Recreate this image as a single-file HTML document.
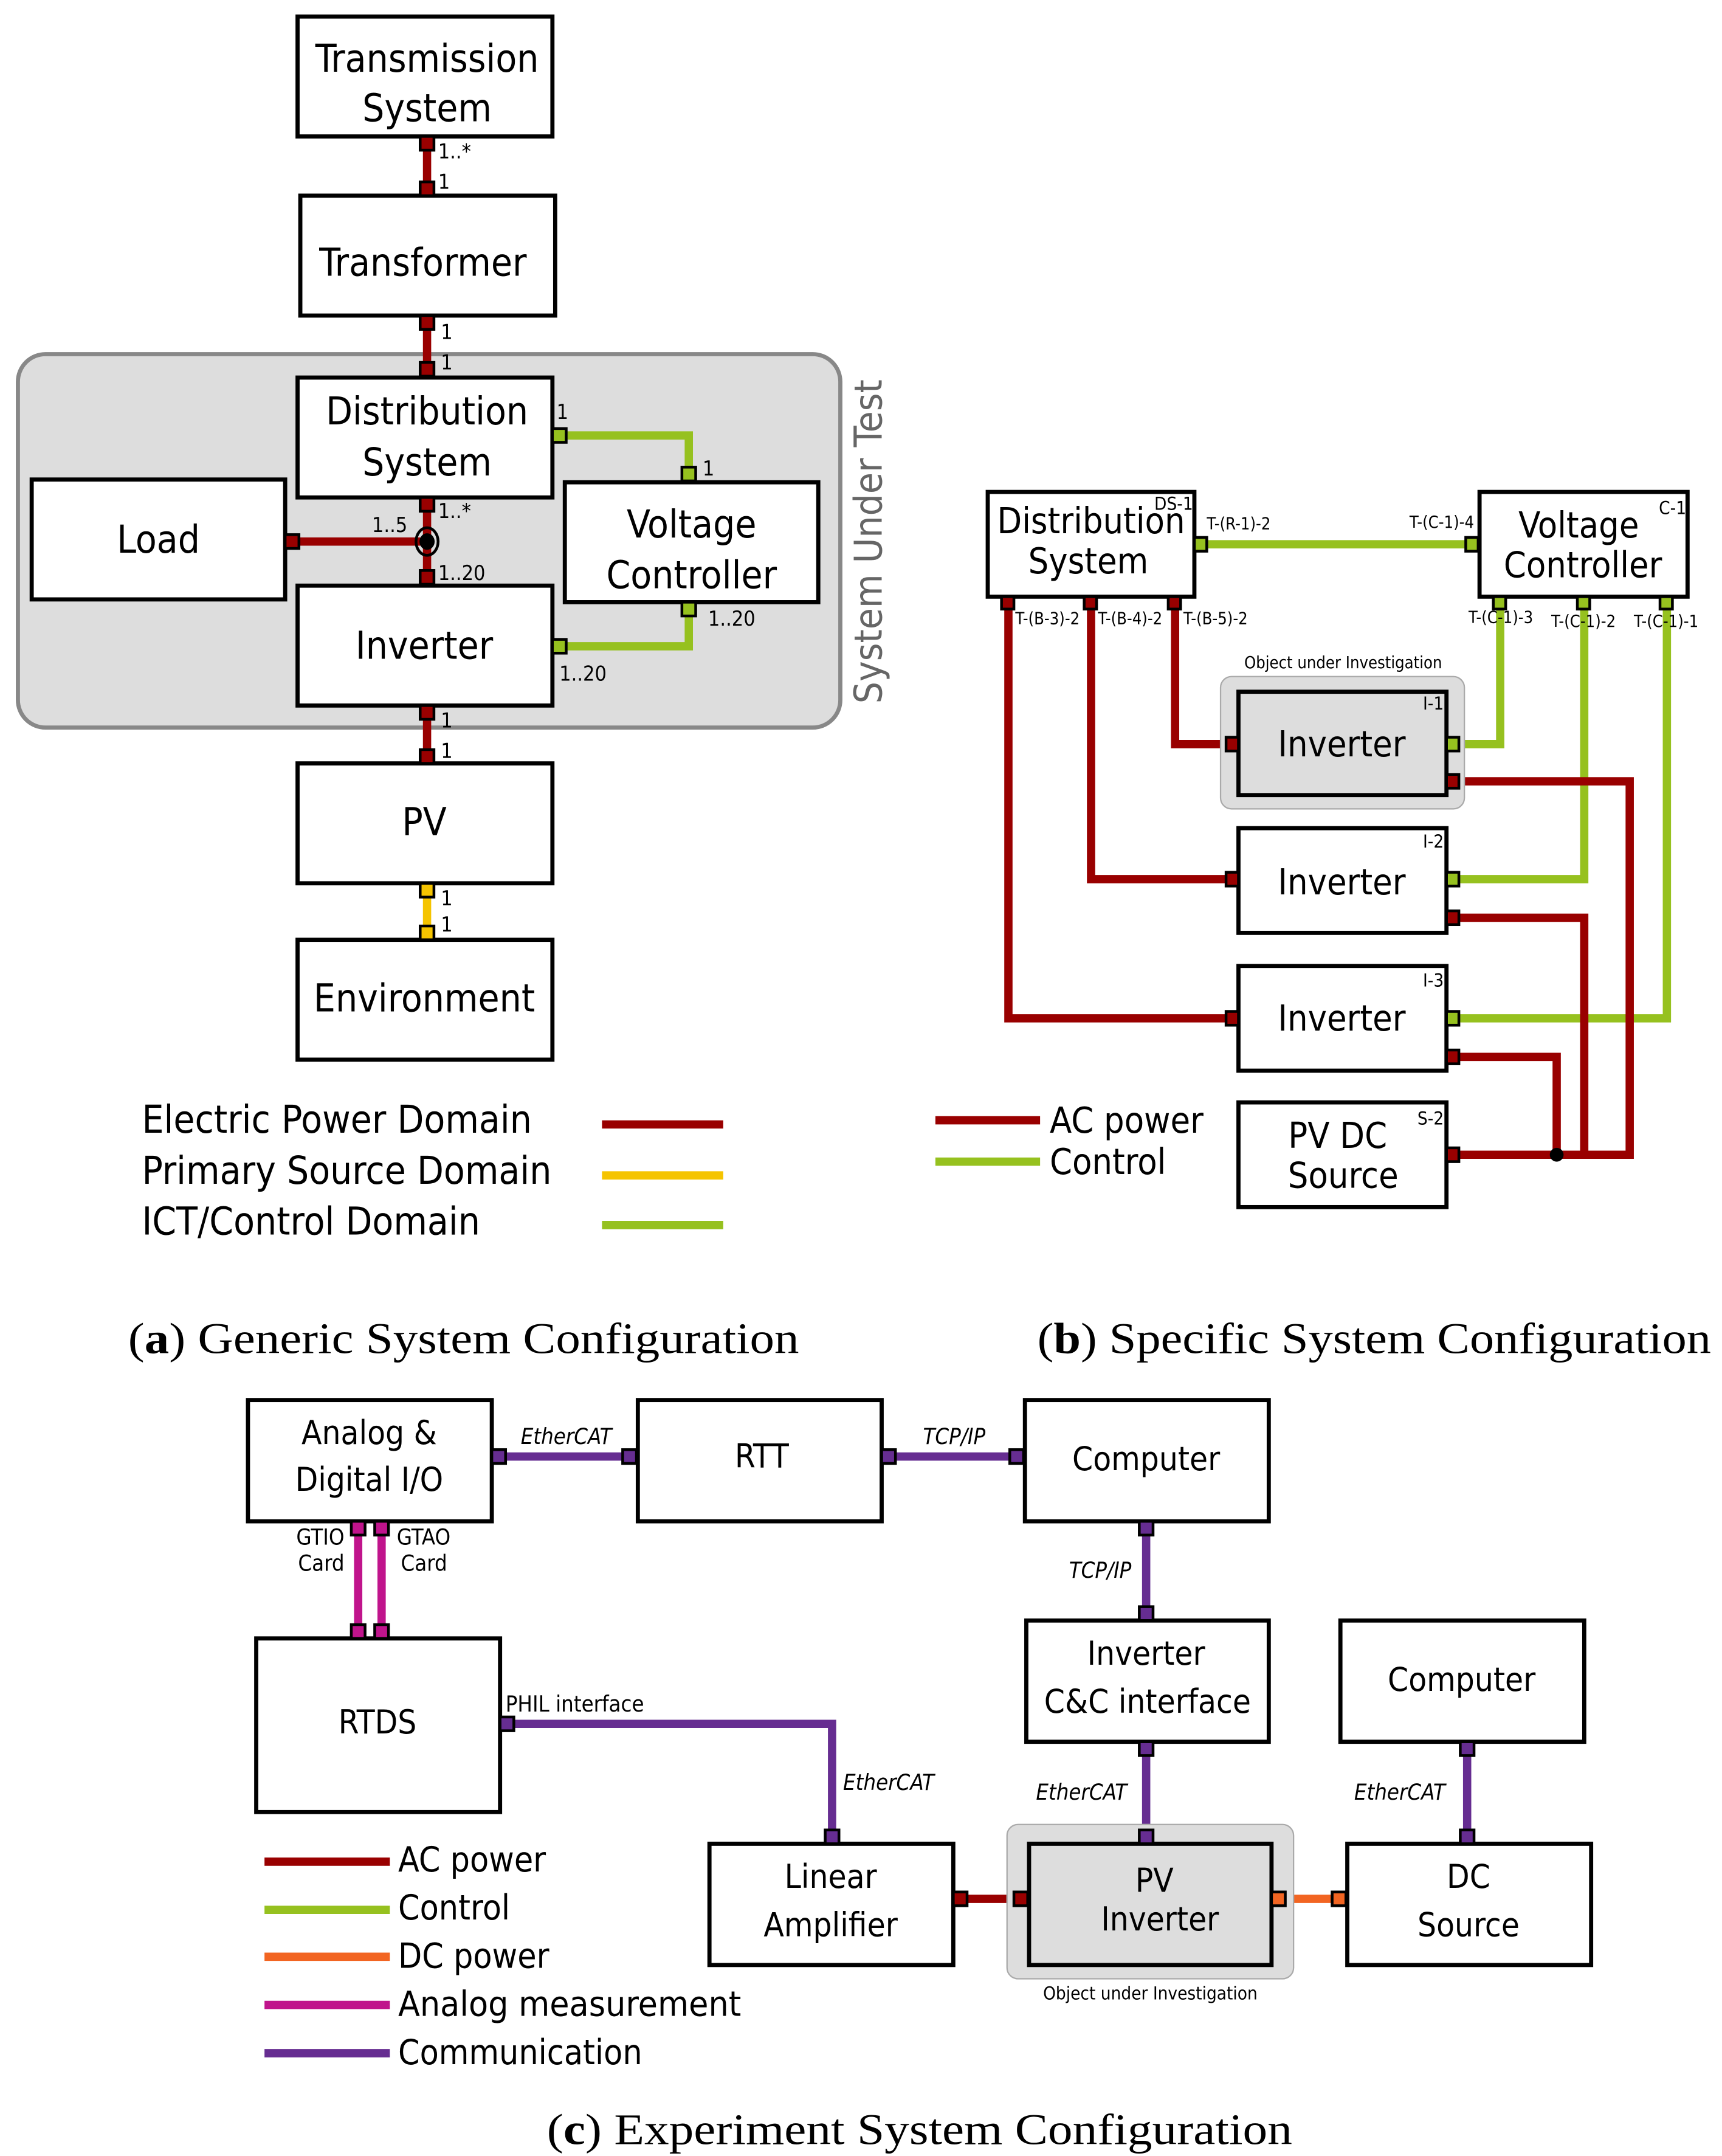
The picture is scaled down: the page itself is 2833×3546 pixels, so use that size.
<!DOCTYPE html>
<html><head><meta charset="utf-8"><style>
html,body{margin:0;padding:0;background:#fff;}
svg{display:block;}
text{font-family:"DejaVu Sans Condensed","DejaVu Sans","Liberation Sans",sans-serif;fill:#000;}
.cap{font-family:"Liberation Serif","DejaVu Serif",serif;font-size:32px;}
.bx{fill:#fff;stroke:#000;stroke-width:3;}
.gb{fill:#ddd;stroke:#000;stroke-width:3;}
.r{stroke:#990000;stroke-width:6;fill:none;}
.g{stroke:#96c11f;stroke-width:6;fill:none;}
.y{stroke:#f5c400;stroke-width:6;fill:none;}
.p{stroke:#662d91;stroke-width:6;fill:none;}
.m{stroke:#c0148c;stroke-width:6;fill:none;}
.o{stroke:#f26522;stroke-width:6;fill:none;}
.pr{fill:#990000;stroke:#000;stroke-width:2;}
.pg{fill:#96c11f;stroke:#000;stroke-width:2;}
.py{fill:#f5c400;stroke:#000;stroke-width:2;}
.pp{fill:#662d91;stroke:#000;stroke-width:2;}
.pm{fill:#c0148c;stroke:#000;stroke-width:2;}
.po{fill:#f26522;stroke:#000;stroke-width:2;}
.big{font-size:28px;}
.mid{font-size:26px;}
.sm{font-size:15px;}
.xs{font-size:12px;}
.c{text-anchor:middle;}
.e{text-anchor:end;}
.i{font-style:italic;}
</style></head><body>
<svg width="2833" height="3546" viewBox="0 0 1250 1564.6" preserveAspectRatio="none" xmlns="http://www.w3.org/2000/svg">
<!-- (a) -->
<rect x="13" y="257" width="597" height="271" rx="20" fill="#ddd" stroke="#888" stroke-width="3"/>
<text x="640" y="393" class="big c" style="fill:#666" transform="rotate(-90 640 393)">System Under Test</text>

<path class="r" d="M310 99V142M310 229V273M310 361V425M213 393H310M310 512V554"/>
<path class="y" d="M310 641V682"/>
<path class="g" d="M406 316H500V343M406 469H500V443"/>

<rect class="bx" x="216" y="12" width="185" height="87"/>
<text x="310" y="52" class="big c">Transmission</text><text x="310" y="88" class="big c">System</text>
<rect class="bx" x="218" y="142" width="185" height="87"/>
<text x="307" y="200" class="big c">Transformer</text>
<rect class="bx" x="216" y="274" width="185" height="87"/>
<text x="310" y="308" class="big c">Distribution</text><text x="310" y="345" class="big c">System</text>
<rect class="bx" x="23" y="348" width="184" height="87"/>
<text x="115" y="401" class="big c">Load</text>
<rect class="bx" x="410" y="350" width="184" height="87"/>
<text x="502" y="390" class="big c">Voltage</text><text x="502" y="427" class="big c">Controller</text>
<rect class="bx" x="216" y="425" width="185" height="87"/>
<text x="308" y="478" class="big c">Inverter</text>
<rect class="bx" x="216" y="554" width="185" height="87"/>
<text x="308" y="606" class="big c">PV</text>
<rect class="bx" x="216" y="682" width="185" height="87"/>
<text x="308" y="734" class="big c">Environment</text>

<g>
<rect class="pr" x="305" y="99" width="10" height="10"/><rect class="pr" x="305" y="132" width="10" height="10"/>
<rect class="pr" x="305" y="229" width="10" height="10"/><rect class="pr" x="305" y="263" width="10" height="10"/>
<rect class="pr" x="305" y="361" width="10" height="10"/><rect class="pr" x="305" y="414" width="10" height="10"/>
<rect class="pr" x="207" y="388" width="10" height="10"/>
<rect class="pr" x="305" y="512" width="10" height="10"/><rect class="pr" x="305" y="544" width="10" height="10"/>
<rect class="py" x="305" y="641" width="10" height="10"/><rect class="py" x="305" y="672" width="10" height="10"/>
<rect class="pg" x="401" y="311" width="10" height="10"/><rect class="pg" x="495" y="339" width="10" height="10"/>
<rect class="pg" x="401" y="464" width="10" height="10"/><rect class="pg" x="495" y="437" width="10" height="10"/>
<ellipse cx="310" cy="393" rx="8" ry="10" fill="none" stroke="#000" stroke-width="2"/>
<ellipse cx="310" cy="393" rx="5.5" ry="6" fill="#000"/>
</g>
<text x="318" y="115" class="sm">1..*</text><text x="318" y="137" class="sm">1</text>
<text x="320" y="246" class="sm">1</text><text x="320" y="268" class="sm">1</text>
<text x="318" y="376" class="sm">1..*</text><text x="270" y="386" class="sm">1..5</text><text x="318" y="421" class="sm">1..20</text>
<text x="404" y="304" class="sm">1</text><text x="510" y="345" class="sm">1</text>
<text x="514" y="454" class="sm">1..20</text><text x="406" y="494" class="sm">1..20</text>
<text x="320" y="528" class="sm">1</text><text x="320" y="550" class="sm">1</text>
<text x="320" y="657" class="sm">1</text><text x="320" y="676" class="sm">1</text>

<text x="103" y="822" class="big">Electric Power Domain</text>
<text x="103" y="859" class="big">Primary Source Domain</text>
<text x="103" y="896" class="big">ICT/Control Domain</text>
<path class="r" d="M437 816H525" stroke-width="4"/>
<path class="y" d="M437 853H525" stroke-width="4"/>
<path class="g" d="M437 889H525" stroke-width="4"/>
<text x="93" y="982" class="cap" textLength="487" lengthAdjust="spacingAndGlyphs">(<tspan font-weight="bold">a</tspan>) Generic System Configuration</text>

<!-- (b) -->
<path class="r" d="M853 438V540H894M792 438V638H894M732 438V739H894"/>
<path class="g" d="M872 395H1069M1055 540H1089V438M1055 638H1150V438M1055 739H1210V438"/>
<path class="r" d="M1055 567H1183V838H1055M1055 666H1150V838M1055 767H1130V838"/>

<rect class="bx" x="717" y="357" width="150" height="76"/>
<text x="866" y="370" class="xs e" style="font-size:13px">DS-1</text>
<text x="792" y="387" class="mid c">Distribution</text><text x="790" y="416" class="mid c">System</text>
<rect class="bx" x="1074" y="357" width="151" height="76"/>
<text x="1224" y="373" class="xs e" style="font-size:13px">C-1</text>
<text x="1146" y="390" class="mid c">Voltage</text><text x="1149" y="419" class="mid c">Controller</text>
<text x="876" y="384" class="xs">T-(R-1)-2</text><text x="1070" y="383" class="xs e">T-(C-1)-4</text>
<text x="737" y="453" class="xs">T-(B-3)-2</text><text x="797" y="453" class="xs">T-(B-4)-2</text><text x="859" y="453" class="xs">T-(B-5)-2</text>
<text x="1066" y="452" class="xs">T-(C-1)-3</text><text x="1126" y="455" class="xs">T-(C-1)-2</text><text x="1186" y="455" class="xs">T-(C-1)-1</text>
<text x="975" y="485" class="xs c">Object under Investigation</text>
<rect x="886" y="491" width="177" height="96" rx="8" fill="#ddd" stroke="#aaa" stroke-width="1"/>
<rect class="gb" x="899" y="502" width="151" height="75"/>
<text x="1048" y="515" class="xs e" style="font-size:13px">I-1</text><text x="974" y="549" class="mid c">Inverter</text>
<rect class="bx" x="899" y="601" width="151" height="76"/>
<text x="1048" y="615" class="xs e" style="font-size:13px">I-2</text><text x="974" y="649" class="mid c">Inverter</text>
<rect class="bx" x="899" y="701" width="151" height="76"/>
<text x="1048" y="716" class="xs e" style="font-size:13px">I-3</text><text x="974" y="748" class="mid c">Inverter</text>
<rect class="bx" x="899" y="800" width="151" height="76"/>
<text x="1048" y="816" class="xs e" style="font-size:13px">S-2</text>
<text x="971" y="833" class="mid c">PV DC</text><text x="975" y="862" class="mid c">Source</text>
<g>
<rect class="pg" x="867" y="390" width="9" height="10"/><rect class="pg" x="1064" y="390" width="9" height="10"/>
<rect class="pr" x="727" y="433" width="9" height="9"/><rect class="pr" x="787" y="433" width="9" height="9"/><rect class="pr" x="848" y="433" width="9" height="9"/>
<rect class="pg" x="1084" y="433" width="9" height="9"/><rect class="pg" x="1145" y="433" width="9" height="9"/><rect class="pg" x="1205" y="433" width="9" height="9"/>
<rect class="pr" x="890" y="535" width="9" height="10"/><rect class="pg" x="1050" y="535" width="9" height="10"/><rect class="pr" x="1050" y="562" width="9" height="10"/>
<rect class="pr" x="890" y="633" width="9" height="10"/><rect class="pg" x="1050" y="633" width="9" height="10"/><rect class="pr" x="1050" y="661" width="9" height="10"/>
<rect class="pr" x="890" y="734" width="9" height="10"/><rect class="pg" x="1050" y="734" width="9" height="10"/><rect class="pr" x="1050" y="762" width="9" height="10"/>
<rect class="pr" x="1050" y="833" width="9" height="10"/>
<circle cx="1130" cy="838" r="5" fill="#000"/>
</g>
<path class="r" d="M679 813H755" stroke-width="7"/>
<path class="g" d="M679 843H755" stroke-width="7"/>
<text x="762" y="822" class="mid">AC power</text><text x="762" y="852" class="mid">Control</text>
<text x="753" y="982" class="cap" textLength="489" lengthAdjust="spacingAndGlyphs">(<tspan font-weight="bold">b</tspan>) Specific System Configuration</text>

<!-- (c) -->
<path class="p" d="M363 1057H457M646 1057H738M832 1110V1170M832 1270V1332M1065 1270V1332M369 1251H604V1332"/>
<path class="m" d="M260 1110V1183M277 1110V1183"/>
<path class="r" d="M697 1378H741"/>
<path class="o" d="M929 1378H972"/>
<rect class="bx" x="180" y="1016" width="177" height="88"/>
<text x="268" y="1048" class="c" style="font-size:24px">Analog &amp;</text><text x="268" y="1082" class="c" style="font-size:24px">Digital I/O</text>
<rect class="bx" x="463" y="1016" width="177" height="88"/>
<text x="553" y="1065" class="c" style="font-size:24px">RTT</text>
<rect class="bx" x="744" y="1016" width="177" height="88"/>
<text x="832" y="1067" class="c" style="font-size:24px">Computer</text>
<rect class="bx" x="745" y="1176" width="176" height="88"/>
<text x="832" y="1208" class="c" style="font-size:24px">Inverter</text><text x="833" y="1243" class="c" style="font-size:24px">C&amp;C interface</text>
<rect class="bx" x="973" y="1176" width="177" height="88"/>
<text x="1061" y="1227" class="c" style="font-size:24px">Computer</text>
<rect class="bx" x="186" y="1189" width="177" height="126"/>
<text x="274" y="1258" class="c" style="font-size:24px">RTDS</text>
<rect class="bx" x="515" y="1338" width="177" height="88"/>
<text x="603" y="1370" class="c" style="font-size:24px">Linear</text><text x="603" y="1405" class="c" style="font-size:24px">Amplifier</text>
<rect x="731" y="1324" width="208" height="112" rx="8" fill="#ddd" stroke="#aaa" stroke-width="1"/>
<rect class="gb" x="747" y="1338" width="176" height="88"/>
<text x="838" y="1373" class="c" style="font-size:24px">PV</text><text x="842" y="1401" class="c" style="font-size:24px">Inverter</text>
<text x="835" y="1451" class="c" style="font-size:13px">Object under Investigation</text>
<rect class="bx" x="978" y="1338" width="177" height="88"/>
<text x="1066" y="1370" class="c" style="font-size:24px">DC</text><text x="1066" y="1405" class="c" style="font-size:24px">Source</text>
<g>
<rect class="pp" x="357" y="1052" width="10" height="10"/><rect class="pp" x="452" y="1052" width="10" height="10"/>
<rect class="pp" x="640" y="1052" width="10" height="10"/><rect class="pp" x="733" y="1052" width="10" height="10"/>
<rect class="pp" x="827" y="1104" width="10" height="10"/><rect class="pp" x="827" y="1166" width="10" height="10"/>
<rect class="pp" x="827" y="1264" width="10" height="10"/><rect class="pp" x="827" y="1328" width="10" height="10"/>
<rect class="pp" x="1060" y="1264" width="10" height="10"/><rect class="pp" x="1060" y="1328" width="10" height="10"/>
<rect class="pp" x="363" y="1246" width="10" height="10"/><rect class="pp" x="599" y="1328" width="10" height="10"/>
<rect class="pm" x="255" y="1104" width="10" height="10"/><rect class="pm" x="272" y="1104" width="10" height="10"/>
<rect class="pm" x="255" y="1179" width="10" height="10"/><rect class="pm" x="272" y="1179" width="10" height="10"/>
<rect class="pr" x="692" y="1373" width="10" height="10"/><rect class="pr" x="736" y="1373" width="10" height="10"/>
<rect class="po" x="923" y="1373" width="10" height="10"/><rect class="po" x="967" y="1373" width="10" height="10"/>
</g>
<text x="378" y="1048" class="i" style="font-size:16px">EtherCAT</text>
<text x="670" y="1048" class="i" style="font-size:16px">TCP/IP</text>
<text x="776" y="1145" class="i" style="font-size:16px">TCP/IP</text>
<text x="752" y="1306" class="i" style="font-size:16px">EtherCAT</text>
<text x="983" y="1306" class="i" style="font-size:16px">EtherCAT</text>
<text x="612" y="1299" class="i" style="font-size:16px">EtherCAT</text>
<text x="367" y="1242" style="font-size:16px">PHIL interface</text>
<text x="250" y="1121" class="e" style="font-size:16px">GTIO</text><text x="250" y="1140" class="e" style="font-size:16px">Card</text>
<text x="288" y="1121" style="font-size:16px">GTAO</text><text x="291" y="1140" style="font-size:16px">Card</text>
<path class="r" d="M192 1351H283" stroke-width="7"/>
<path class="g" d="M192 1386H283" stroke-width="7"/>
<path class="o" d="M192 1420H283" stroke-width="7"/>
<path class="m" d="M192 1455H283" stroke-width="7"/>
<path class="p" d="M192 1490H283" stroke-width="7"/>
<text x="289" y="1358" style="font-size:25px">AC power</text>
<text x="289" y="1393" style="font-size:25px">Control</text>
<text x="289" y="1428" style="font-size:25px">DC power</text>
<text x="289" y="1463" style="font-size:25px" textLength="249" lengthAdjust="spacingAndGlyphs">Analog measurement</text>
<text x="289" y="1498" style="font-size:25px">Communication</text>
<text x="397" y="1556" class="cap" textLength="541" lengthAdjust="spacingAndGlyphs">(<tspan font-weight="bold">c</tspan>) Experiment System Configuration</text>
</svg>
</body></html>
